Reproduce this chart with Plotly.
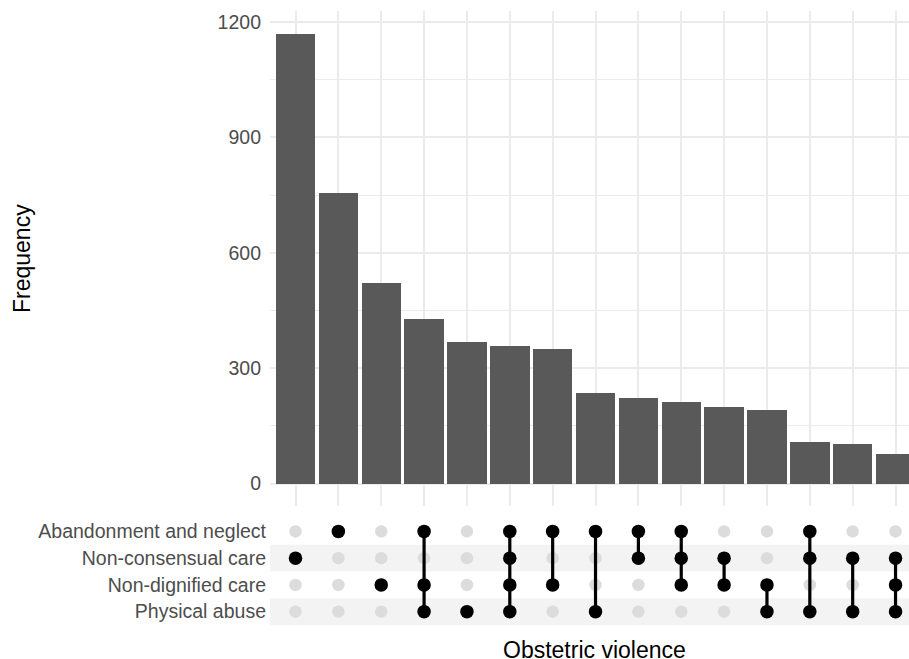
import plotly.graph_objects as go

# ---------------- data ----------------
sets = ["Abandonment and neglect", "Non-consensual care", "Non-dignified care", "Physical abuse"]
freq = [1170, 756, 522, 428, 369, 357, 350, 235, 223, 211, 198, 190, 108, 104, 78]
combos = [
    ["Non-consensual care"],
    ["Abandonment and neglect"],
    ["Non-dignified care"],
    ["Abandonment and neglect", "Non-dignified care", "Physical abuse"],
    ["Physical abuse"],
    ["Abandonment and neglect", "Non-consensual care", "Non-dignified care", "Physical abuse"],
    ["Abandonment and neglect", "Non-dignified care"],
    ["Abandonment and neglect", "Physical abuse"],
    ["Abandonment and neglect", "Non-consensual care"],
    ["Abandonment and neglect", "Non-consensual care", "Non-dignified care"],
    ["Non-consensual care", "Non-dignified care"],
    ["Non-dignified care", "Physical abuse"],
    ["Abandonment and neglect", "Non-consensual care", "Physical abuse"],
    ["Non-consensual care", "Physical abuse"],
    ["Non-consensual care", "Non-dignified care", "Physical abuse"],
]
y_ticks = [0, 300, 600, 900, 1200]
y_minor = [150, 450, 750, 1050]
x_title = "Obstetric violence"
y_title = "Frequency"

# ---------------- figure ----------------
W, H = 909, 659
FONT = "Liberation Sans, Arial, sans-serif"
GRID = "#EBEBEB"
TICKC = "#4D4D4D"
cols = list(range(len(freq)))

fig = go.Figure()

fig.add_trace(go.Bar(x=cols, y=freq, width=0.92, marker=dict(color="#595959", line=dict(width=0)),
                     xaxis="x", yaxis="y", showlegend=False, hoverinfo="skip"))

# matrix: grey background dots
gx, gy = [], []
for i, c in enumerate(combos):
    for s in sets:
        if s not in c:
            gx.append(i)
            gy.append(s)
fig.add_trace(go.Scatter(x=gx, y=gy, mode="markers", marker=dict(size=12.5, color="#DCDCDC"),
                         xaxis="x2", yaxis="y2", showlegend=False, hoverinfo="skip"))

# connecting lines
for i, c in enumerate(combos):
    if len(c) > 1:
        idx = sorted(sets.index(s) for s in c)
        fig.add_trace(go.Scatter(x=[i, i], y=[sets[idx[0]], sets[idx[-1]]], mode="lines",
                                 line=dict(color="black", width=3.2),
                                 xaxis="x2", yaxis="y2", showlegend=False, hoverinfo="skip"))

# black member dots
bx, by = [], []
for i, c in enumerate(combos):
    for s in c:
        bx.append(i)
        by.append(s)
fig.add_trace(go.Scatter(x=bx, y=by, mode="markers", marker=dict(size=13.5, color="black"),
                         xaxis="x2", yaxis="y2", showlegend=False, hoverinfo="skip"))

xdom = [270 / W, 1.0]
xr = [-0.595, 14.314]

fig.update_layout(
    width=W, height=H,
    margin=dict(l=0, r=0, t=0, b=0),
    paper_bgcolor="white", plot_bgcolor="rgba(0,0,0,0)",
    font=dict(family=FONT, color=TICKC, size=19.5),
    bargap=0,
    xaxis=dict(domain=xdom, range=xr, anchor="y", tickvals=cols, showticklabels=False,
               showgrid=True, gridcolor=GRID, gridwidth=1.6, zeroline=False, ticks="",
               showline=False, fixedrange=True),
    yaxis=dict(domain=[(H - 506) / H, (H - 11) / H], range=[-58.5, 1228.5], anchor="x",
               tickvals=y_ticks, showgrid=True, gridcolor=GRID, gridwidth=1.6, zeroline=False,
               ticks="", tickfont=dict(size=19.5, color=TICKC, family=FONT),
               ticklabelstandoff=8,
               minor=dict(tickvals=y_minor, showgrid=True, gridcolor=GRID, gridwidth=1.1),
               fixedrange=True),
    xaxis2=dict(domain=xdom, range=xr, anchor="y2", showticklabels=False, showgrid=False,
                zeroline=False, ticks="", showline=False, fixedrange=True),
    yaxis2=dict(domain=[(H - 625) / H, (H - 518) / H], anchor="x2", type="category",
                categoryorder="array", categoryarray=sets, range=[3.5, -0.5],
                showgrid=False, zeroline=False, ticks="",
                tickfont=dict(size=19.5, color=TICKC, family=FONT),
                ticklabelstandoff=3, fixedrange=True),
    shapes=[
        dict(type="rect", xref="paper", yref="y2", x0=270 / W, x1=1.0, y0=0.5, y1=1.5,
             fillcolor="#F3F3F3", line=dict(width=0), layer="below"),
        dict(type="rect", xref="paper", yref="y2", x0=270 / W, x1=1.0, y0=2.5, y1=3.5,
             fillcolor="#F3F3F3", line=dict(width=0), layer="below"),
    ],
    annotations=[
        dict(text=y_title, x=22 / W, y=(H - 259) / H, xref="paper", yref="paper",
             textangle=-90, showarrow=False, font=dict(size=23, color="black", family=FONT),
             xanchor="center", yanchor="middle"),
        dict(text=x_title, x=594 / W, y=(H - 650) / H, xref="paper", yref="paper",
             showarrow=False, font=dict(size=23, color="black", family=FONT),
             xanchor="center", yanchor="middle"),
    ],
)

fig.write_html("out.html", config={"displayModeBar": False},
               post_script="document.body.style.margin='0px';document.body.style.overflow='hidden';")
